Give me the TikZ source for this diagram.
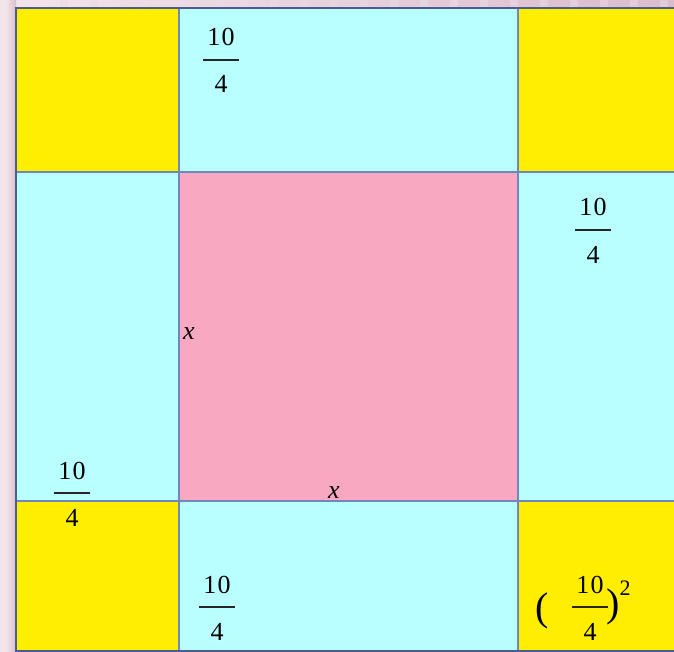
\documentclass[tikz,border=0pt]{standalone}
\usepackage{fontspec}
\setmainfont{Liberation Serif}
\definecolor{bgpink}{HTML}{F3E4EC}
\definecolor{bgdark}{HTML}{D9BDCB}
\definecolor{cyellow}{HTML}{FFEE00}
\definecolor{ccyan}{HTML}{B9FFFF}
\definecolor{cpink}{HTML}{F9A8C2}
\definecolor{gridblue}{HTML}{7087BE}
\definecolor{edgeblue}{HTML}{4D5C8E}
\newcommand{\tenfourth}[3]{%
  \node[lbl,anchor=base] (#1-num) at (#2,#3-14) {1\kern1.5pt0};
  \node[lbl,anchor=base] (#1-den) at (#2,#3+33) {4};
  \draw[fbar] (#2-18,#3) -- (#2+18,#3);}
\begin{document}
\begin{tikzpicture}[x=1pt,y=-1pt,
  lbl/.style={font=\fontsize{26}{30}\selectfont, inner sep=0pt, text=black},
  fbar/.style={line width=1.6pt, draw=black!85},
  gridline/.style={draw=gridblue, line width=1.2pt},
  edgeline/.style={draw=edgeblue, line width=1.6pt}]
\useasboundingbox (0,0) rectangle (674,652);
% background
\fill[bgpink] (0,0) rectangle (674,652);
\shade[left color=bgpink, right color=bgdark] (16,0) rectangle (674,8);
\shade[left color=bgpink, right color=bgdark] (6,0) rectangle (16,652);
\foreach \s in {60,90,...,660} {\fill[bgdark!25!bgpink, opacity=0.5] (\s,0) rectangle (\s+8,8);}
% cells
\fill[cyellow] (16,8) rectangle (179,172);
\fill[ccyan] (179,8) rectangle (518,172);
\fill[cyellow] (518,8) rectangle (674,172);
\fill[ccyan] (16,172) rectangle (179,501);
\fill[cpink] (179,172) rectangle (518,501);
\fill[ccyan] (518,172) rectangle (674,501);
\fill[cyellow] (16,501) rectangle (179,651);
\fill[ccyan] (179,501) rectangle (518,651);
\fill[cyellow] (518,501) rectangle (674,651);
% grid lines
\draw[gridline] (179,8) -- (179,651);
\draw[gridline] (518,8) -- (518,651);
\draw[gridline] (16,172) -- (674,172);
\draw[gridline] (16,501) -- (674,501);
\draw[edgeline] (674,8) -- (16,8) -- (16,651) -- (674,651);
% labels
\tenfourth{ft}{221}{60}
\tenfourth{fr}{593}{230}
\tenfourth{fl}{72}{493}
\tenfourth{fb}{217}{607}
\tenfourth{fbr}{590}{607}
\node[lbl,font=\fontsize{26}{30}\selectfont\itshape] (xl) at (189,334) {x};
\node[lbl,font=\fontsize{26}{30}\selectfont\itshape] (xb) at (334,493) {x};
\node[lbl,font=\fontsize{40}{44}\selectfont] (lp) at (542,611) {(};
\node[lbl,font=\fontsize{40}{44}\selectfont] (rp) at (613,607) {)};
\node[lbl,font=\fontsize{22}{26}\selectfont] (sq) at (625,588) {2};
\end{tikzpicture}
\end{document}
